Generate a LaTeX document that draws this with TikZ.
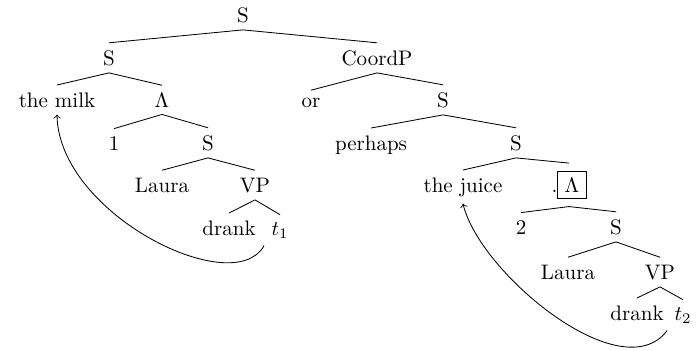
\documentclass[tikz,border=0pt]{standalone}
\usetikzlibrary{arrows}
\begin{document}
\begin{tikzpicture}[x=0.47619pt, y=-0.47619pt,
  lbl/.style={anchor=base, inner sep=3.33pt},
  edge/.style={line width=0.4pt},
  mv/.style={->, line width=0.4pt}]
\useasboundingbox (0,0) rectangle (700,350);
% level baselines
\node[lbl] (root) at (243,22) {S};
\node[lbl] (sl) at (109,65) {S};
\node[lbl] (coord) at (377,65) {CoordP};
\node[lbl] (milk) at (57,107) {the milk};
\node[lbl] (lam) at (162,107) {$\Lambda$};
\node[lbl] (or) at (311,107) {or};
\node[lbl] (sra) at (443,107) {S};
\node[lbl] (one) at (114,150) {1};
\node[lbl] (slb) at (208,150) {S};
\node[lbl] (perhaps) at (371,150) {perhaps};
\node[lbl] (srb) at (516,150) {S};
\node[lbl] (laural) at (162,192) {Laura};
\node[lbl] (vpl) at (255,192) {VP};
\node[lbl] (juice) at (463,192) {the juice};
\node[lbl] (box) at (569,192) {.\setlength{\fboxsep}{3pt}\fbox{$\Lambda$}};
\node[lbl] (drankl) at (229,235) {drank};
\node[lbl] (tone) at (280,235) {$t_1$};
\node[lbl] (two) at (521,234) {2};
\node[lbl] (src) at (616,234) {S};
\node[lbl] (laurar) at (568,279) {Laura};
\node[lbl] (vpr) at (660,279) {VP};
\node[lbl] (drankr) at (637,320) {drank};
\node[lbl] (ttwo) at (683,320) {$t_2$};
\foreach \p/\c in {root/sl, root/coord, sl/milk, sl/lam, lam/one, lam/slb,
  slb/laural, slb/vpl, vpl/drankl, vpl/tone, coord/or, coord/sra,
  sra/perhaps, sra/srb, srb/juice, srb/box, box/two, box/src,
  src/laurar, src/vpr, vpr/drankr, vpr/ttwo}
  \draw[edge] (\p.south) -- (\c.north);
\draw[mv] (tone.south west) .. controls +(-30,55) and +(2,100) .. (milk.south);
\draw[mv] (ttwo.south west) .. controls +(-45,60) and +(17,70) .. (juice.south);
\end{tikzpicture}
\end{document}
